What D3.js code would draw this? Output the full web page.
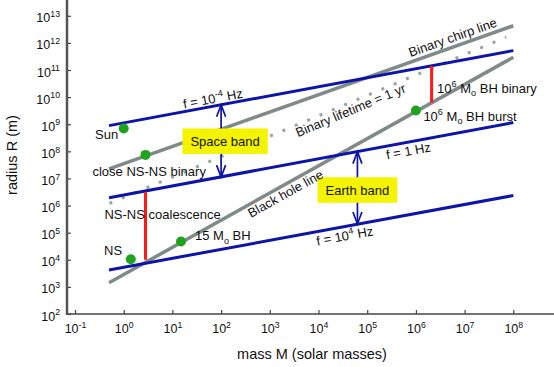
<!DOCTYPE html>
<html lang="en">
<head>
<meta charset="UTF-8">
<title>GW sources: radius vs mass</title>
<script src="https://d3js.org/d3.v7.min.js"></script>
<style>
    body { margin: 0; background: #fff; }
    text { white-space: pre; }
</style>
</head>
<body>
<script>
    // axis ticks
    let massTicks = [1e-1, 1e0, 1e1, 1e2, 1e3, 1e4, 1e5, 1e6, 1e7, 1e8]
    let radiusTicks = [1e2, 1e3, 1e4, 1e5, 1e6, 1e7, 1e8, 1e9, 1e10, 1e11, 1e12, 1e13]

    // constant frequency lines (blue)
    let freqNames = ["f = 10^{-4} Hz", "f = 1 Hz", "f = 10^{4} Hz"]
    let freqMass = [0.5, 1e8]
    let freqRadius = [[8.9e8, 5.2e11], [1.95e6, 1.15e9], [4.2e3, 2.35e6]]

    // grey solid lines
    let grayNames = ["Binary chirp line", "Black hole line"]
    let grayMass = [[0.5, 1e8], [0.5, 1e8]]
    let grayRadius = [[2.24e7, 4.3e12], [1.43e3, 2.95e11]]

    // dotted line
    let lifetimeName = "Binary lifetime = 1 yr"
    let lifetimeMass = [0.51, 7.1e7]
    let lifetimeRadius = [1.2e6, 1.62e12]

    // red segments
    let redNames = ["NS-NS coalescence", "10^{6} M_{o} BH binary"]
    let redMass = [2.8, 2.1e6]
    let redRadius = [[3.2e6, 1e4], [1.4e11, 6.3e9]]

    // green sources
    let pointNames = ["Sun", "close NS-NS binary", "NS", "15 M_{o} BH", "10^{6} M_{o} BH burst"]
    let pointMass = [1, 2.8, 1.4, 15, 1e6]
    let pointRadius = [7e8, 7.4e7, 1.05e4, 4.7e4, 3.2e9]

    // detector bands (double arrows)
    let bandNames = ["Space band", "Earth band"]
    let bandMass = [100, 6.3e4]
    let bandRadius = [[5.2e9, 1.12e7], [9.8e7, 2.1e5]]

    const W = 554, H = 367
    const FONT = '"Liberation Sans", Arial, Helvetica, sans-serif'
    const BLUE = "#0d14a8", GRAY = "#808b89", RED = "#ff1a1a", GREEN = "#1fa31f", YELLOW = "#f4f400"

    let svg = d3.select("body").append("svg")
        .attr("width", W).attr("height", H)
        .style("font-family", FONT)

    let x = d3.scaleLog().domain([1e-1, 1e8]).range([75, 513.3])
    let y = d3.scaleLog().domain([1e2, 1e13]).range([314, 15.8])

    // text with ^{sup} and _{sub}
    function richText(sel, str, fs) {
        let parts = str.split(/(\^\{[^}]*\}|_\{[^}]*\})/).filter(s => s.length)
        let shift = 0
        parts.forEach(p => {
            let target = 0, size = fs, txt = p
            if (p[0] === "^") { target = -fs * 0.42; size = fs * 0.7; txt = p.slice(2, -1) }
            else if (p[0] === "_") { target = fs * 0.28; size = fs * 0.7; txt = p.slice(2, -1) }
            sel.append("tspan").attr("dy", target - shift).attr("font-size", size).text(txt)
            shift = target
        })
    }

    // axes
    let gx = svg.append("g").attr("transform", "translate(0,314)")
        .call(d3.axisBottom(x).tickValues(massTicks).tickSizeInner(-4).tickSizeOuter(0).tickFormat(() => ""))
    gx.select(".domain").remove()
    gx.selectAll(".tick line").attr("stroke", "#444").attr("stroke-width", 1.2)
    gx.selectAll(".tick text").each(function (d) {
        let t = d3.select(this).attr("y", 19).attr("dy", 0).attr("font-size", 12.5)
            .attr("fill", "#111").attr("font-family", FONT)
        richText(t, "10^{" + Math.round(Math.log10(d)) + "}", 12.5)
    })
    svg.append("line").attr("x1", 66).attr("x2", W).attr("y1", 314).attr("y2", 314)
        .attr("stroke", "#444").attr("stroke-width", 1.5)

    let gy = svg.append("g").attr("transform", "translate(67,0)")
        .call(d3.axisLeft(y).tickValues(radiusTicks).tickSizeInner(-4).tickSizeOuter(0).tickFormat(() => ""))
    gy.select(".domain").remove()
    gy.selectAll(".tick line").attr("stroke", "#444").attr("stroke-width", 1.2)
    gy.selectAll(".tick text").each(function (d) {
        let t = d3.select(this).attr("x", -7).attr("y", 6).attr("dy", 0).attr("font-size", 12.5)
            .attr("fill", "#111").attr("font-family", FONT)
        richText(t, "10^{" + Math.round(Math.log10(d)) + "}", 12.5)
    })
    svg.append("line").attr("x1", 67).attr("x2", 67).attr("y1", 0).attr("y2", 315)
        .attr("stroke", "#555").attr("stroke-width", 2.5)

    svg.append("text").attr("transform", "translate(17,155) rotate(-90)")
        .attr("text-anchor", "middle").attr("font-size", 14.5).attr("fill", "#111")
        .text("radius R (m)")
    svg.append("text").attr("x", 312).attr("y", 359)
        .attr("text-anchor", "middle").attr("font-size", 14.5).attr("fill", "#111")
        .text("mass M (solar masses)")

    let lineGen = d3.line().x(d => x(d[0])).y(d => y(d[1]))
    function seg(ms, rs) { return [[ms[0], rs[0]], [ms[1], rs[1]]] }

    // grey lines
    grayNames.forEach((n, i) => {
        svg.append("path").attr("d", lineGen(seg(grayMass[i], grayRadius[i])))
            .attr("stroke", GRAY).attr("stroke-width", 3.5).attr("fill", "none")
    })
    svg.append("path").attr("d", lineGen(seg(lifetimeMass, lifetimeRadius)))
        .attr("stroke", "#9aa3a1").attr("stroke-width", 3).attr("fill", "none")
        .attr("stroke-dasharray", "3,10.4")

    // blue frequency lines
    freqNames.forEach((n, i) => {
        svg.append("path").attr("d", lineGen(seg(freqMass, freqRadius[i])))
            .attr("stroke", BLUE).attr("stroke-width", 3).attr("fill", "none")
    })

    // band arrows with yellow boxes
    bandNames.forEach((n, i) => {
        let ax = x(bandMass[i]), yt = y(bandRadius[i][0]), yb = y(bandRadius[i][1])
        let g = svg.append("g").attr("stroke", BLUE).attr("stroke-width", 1.7).attr("fill", "none")
        g.append("line").attr("x1", ax).attr("x2", ax).attr("y1", yt).attr("y2", yb)
        g.append("path").attr("d", `M${ax - 4.5},${yt + 12}L${ax},${yt}L${ax + 4.5},${yt + 12}`)
        g.append("path").attr("d", `M${ax - 4.5},${yb - 12}L${ax},${yb}L${ax + 4.5},${yb - 12}`)
        let cy = Math.sqrt(yt * yb) > 0 ? (yt + yb) / 2 : 0
        let cx = ax + (i === 0 ? 4 : 0)
        if (i === 1) cy += 2
        let t = svg.append("text").attr("x", cx).attr("y", cy + 5)
            .attr("text-anchor", "middle").attr("font-size", 13).attr("fill", "#111").text(n)
        let bb = t.node().getBBox()
        svg.insert("rect", () => t.node())
            .attr("x", cx - (bb.width + 16) / 2).attr("y", cy - 12.5)
            .attr("width", bb.width + 16).attr("height", 25.5)
            .attr("fill", YELLOW)
    })

    // red segments
    let redLabelOffset = [[-41, 27.6], [5.5, 26.7]]
    redNames.forEach((n, i) => {
        let rx = x(redMass[i]), y0 = y(redRadius[i][0]), y1 = y(redRadius[i][1])
        svg.append("line").attr("x1", rx).attr("x2", rx).attr("y1", y0).attr("y2", y1)
            .attr("stroke", RED).attr("stroke-width", 3)
        let t = svg.append("text").attr("x", rx + redLabelOffset[i][0]).attr("y", y0 + redLabelOffset[i][1])
            .attr("font-size", 13).attr("fill", "#111")
        richText(t, n, 13)
    })

    // green points
    let pointLabelOffset = [[-28.6, 10.5], [-53, 21], [-26.7, -4.3], [14, -1.5], [7.5, 10]]
    pointNames.forEach((n, i) => {
        let px = x(pointMass[i]), py = y(pointRadius[i])
        svg.append("circle").attr("cx", px).attr("cy", py).attr("r", 5).attr("fill", GREEN)
        let t = svg.append("text").attr("x", px + pointLabelOffset[i][0]).attr("y", py + pointLabelOffset[i][1])
            .attr("font-size", 13).attr("fill", "#111")
        richText(t, n, 13)
    })

    // labels along lines
    function onLine(ms, rs, m, off) {
        let x0 = x(ms[0]), y0 = y(rs[0]), x1 = x(ms[1]), y1 = y(rs[1])
        let px = x(m), py = y0 + (px - x0) / (x1 - x0) * (y1 - y0)
        let ang = Math.atan2(y1 - y0, x1 - x0)
        return {x: px - Math.sin(ang) * off, y: py + Math.cos(ang) * off, deg: ang * 180 / Math.PI}
    }
    let lineLabels = [
        {text: freqNames[0], ms: freqMass, rs: freqRadius[0], m: 72, off: -3},
        {text: freqNames[1], ms: freqMass, rs: freqRadius[1], m: 6.5e5, off: 13.3},
        {text: freqNames[2], ms: freqMass, rs: freqRadius[2], m: 3.2e4, off: 13.8},
        {text: grayNames[0], ms: grayMass[0], rs: grayRadius[0], m: 6.6e6, off: -4.8},
        {text: grayNames[1], ms: grayMass[1], rs: grayRadius[1], m: 1740, off: 12.6},
        {text: lifetimeName, ms: lifetimeMass, rs: lifetimeRadius, m: 4e4, off: 11.8}
    ]
    lineLabels.forEach(L => {
        let p = onLine(L.ms, L.rs, L.m, L.off)
        let t = svg.append("text")
            .attr("transform", `translate(${p.x},${p.y}) rotate(${p.deg})`)
            .attr("text-anchor", "middle").attr("font-size", 13).attr("fill", "#111")
        richText(t, L.text, 13)
    })
</script>
</body>
</html>
